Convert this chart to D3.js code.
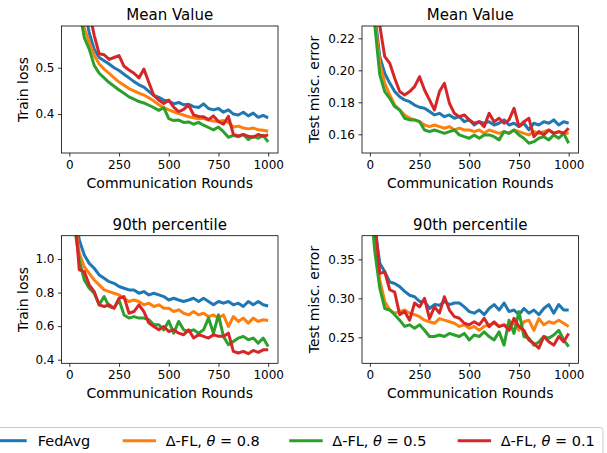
<!DOCTYPE html>
<html lang="en">
<head>
<meta charset="utf-8">
<script src="https://cdn.jsdelivr.net/npm/d3@7"></script>
<style>
  body { margin: 0; background: #fff; }
  svg { font-family: "DejaVu Sans", sans-serif; }
</style>
</head>
<body>
<div id="chart"></div>
<script>
// communication rounds sampled every 25
var rounds = [0,25,50,75,100,125,150,175,200,225,250,275,300,325,350,375,400,425,450,475,500,
  525,550,575,600,625,650,675,700,725,750,775,800,825,850,875,900,925,950,975,1000];

var seriesNames = ["FedAvg", "0.8", "0.5", "0.1"];
var colors = ["#1f77b4", "#ff7f0e", "#2ca02c", "#d62728"];
var xTicks = [0, 250, 500, 750, 1000];

// train loss, mean
var trainMeanFedAvg = [1.3,0.95,0.72,0.63,0.575,0.54,0.522,0.515,0.508,0.500,0.494,0.486,0.478,0.470,0.463,0.458,0.449,0.440,0.436,0.430,
  0.428,0.422,0.425,0.420,0.421,0.416,0.414,0.422,0.412,0.409,0.412,0.404,0.409,0.400,0.398,0.404,0.396,0.402,0.393,0.397,0.392];
var trainMean08 = [1.25,0.88,0.66,0.585,0.555,0.527,0.508,0.497,0.488,0.478,0.469,0.462,0.455,0.450,0.445,0.441,0.435,0.428,0.420,0.414,
  0.409,0.405,0.401,0.398,0.394,0.392,0.390,0.391,0.387,0.385,0.384,0.386,0.382,0.372,0.374,0.370,0.368,0.370,0.366,0.365,0.363];
var trainMean05 = [1.2,0.82,0.625,0.565,0.54,0.505,0.488,0.478,0.468,0.460,0.452,0.445,0.437,0.432,0.427,0.424,0.419,0.414,0.408,0.414,
  0.390,0.386,0.387,0.382,0.383,0.378,0.382,0.376,0.371,0.366,0.372,0.362,0.350,0.354,0.351,0.356,0.345,0.352,0.348,0.354,0.340];
var trainMean01 = [1.4,1.05,0.80,0.68,0.62,0.57,0.530,0.528,0.518,0.522,0.526,0.503,0.495,0.488,0.478,0.497,0.468,0.440,0.430,0.423,
  0.430,0.415,0.405,0.410,0.420,0.398,0.395,0.394,0.388,0.396,0.384,0.378,0.395,0.356,0.353,0.356,0.352,0.350,0.356,0.352,0.355];

// test error, mean
var testMeanFedAvg = [0.30,0.235,0.2085,0.198,0.192,0.1867,0.1835,0.1815,0.1804,0.1783,0.1769,0.1763,0.1742,0.1721,0.1731,0.171,0.1721,0.170,0.171,0.1679,
  0.169,0.1658,0.1679,0.1669,0.1679,0.1658,0.1669,0.169,0.1658,0.1669,0.1648,0.1669,0.1627,0.1669,0.1658,0.1679,0.1669,0.169,0.1658,0.1679,0.1669];
var testMean08 = [0.29,0.232,0.2044,0.1919,0.1846,0.1783,0.1752,0.1721,0.170,0.169,0.1679,0.1658,0.1648,0.1658,0.1648,0.1638,0.1648,0.1627,0.1638,0.1627,
  0.1627,0.1617,0.1627,0.1606,0.1627,0.1617,0.1606,0.1617,0.1606,0.1627,0.1617,0.1606,0.1596,0.1617,0.1606,0.1617,0.1627,0.1606,0.1617,0.1606,0.1606];
var testMean05 = [0.28,0.228,0.1971,0.1867,0.1825,0.1773,0.1752,0.170,0.169,0.169,0.1679,0.1627,0.1617,0.1627,0.1617,0.1606,0.1617,0.1627,0.1596,0.1585,
  0.1575,0.1596,0.1575,0.1596,0.1596,0.1585,0.1565,0.1617,0.1606,0.1627,0.1596,0.1575,0.1544,0.1554,0.1575,0.1585,0.1565,0.1596,0.1575,0.1606,0.1544];
var testMean01 = [0.34,0.27,0.228,0.2085,0.2044,0.195,0.1867,0.1846,0.1867,0.1898,0.196,0.1877,0.1815,0.1752,0.1867,0.1919,0.1794,0.1731,0.171,0.1721,
  0.169,0.1669,0.1679,0.1648,0.1731,0.1679,0.170,0.1669,0.169,0.1763,0.1648,0.1679,0.170,0.1585,0.1617,0.1596,0.1627,0.1606,0.1617,0.1606,0.1638];

// train loss, 90th percentile
var trainP90FedAvg = [1.6,1.3,1.113,1.024,0.974,0.945,0.905,0.885,0.865,0.855,0.836,0.826,0.816,0.816,0.796,0.806,0.786,0.796,0.786,0.776,
  0.756,0.766,0.756,0.747,0.756,0.766,0.747,0.766,0.747,0.727,0.747,0.737,0.747,0.727,0.737,0.717,0.747,0.727,0.747,0.727,0.720];
var trainP9008 = [1.55,1.25,1.034,0.954,0.915,0.875,0.846,0.816,0.806,0.796,0.786,0.766,0.747,0.756,0.747,0.727,0.737,0.717,0.727,0.707,
  0.707,0.687,0.697,0.677,0.667,0.687,0.667,0.677,0.657,0.667,0.648,0.667,0.598,0.657,0.628,0.648,0.618,0.648,0.628,0.638,0.634];
var trainP9005 = [1.5,1.2,0.994,0.875,0.826,0.796,0.727,0.776,0.717,0.707,0.756,0.667,0.648,0.657,0.648,0.648,0.638,0.608,0.608,0.578,
  0.630,0.558,0.628,0.578,0.568,0.578,0.558,0.578,0.648,0.558,0.667,0.539,0.489,0.509,0.529,0.539,0.519,0.529,0.499,0.529,0.479];
var trainP9001 = [1.7,1.3,0.935,0.925,0.846,0.806,0.727,0.717,0.727,0.707,0.766,0.776,0.677,0.687,0.727,0.687,0.618,0.598,0.578,0.598,
  0.568,0.578,0.558,0.549,0.578,0.529,0.549,0.539,0.529,0.549,0.539,0.539,0.558,0.450,0.440,0.450,0.436,0.455,0.444,0.459,0.459];

// test error, 90th percentile
var testP90FedAvg = [0.45,0.39,0.345,0.334,0.321,0.319,0.315,0.309,0.304,0.302,0.296,0.296,0.287,0.292,0.291,0.296,0.292,0.294,0.294,0.289,
  0.283,0.281,0.285,0.279,0.287,0.292,0.285,0.294,0.283,0.285,0.279,0.287,0.281,0.285,0.279,0.287,0.292,0.281,0.292,0.285,0.285];
var testP9008 = [0.44,0.37,0.3235,0.296,0.285,0.281,0.283,0.285,0.281,0.279,0.2765,0.272,0.270,0.268,0.274,0.272,0.270,0.268,0.264,0.266,
  0.2615,0.264,0.259,0.264,0.266,0.268,0.264,0.266,0.264,0.268,0.259,0.270,0.272,0.259,0.274,0.266,0.270,0.268,0.272,0.268,0.264];
var testP9005 = [0.43,0.36,0.313,0.287,0.285,0.279,0.272,0.264,0.266,0.2615,0.266,0.259,0.251,0.251,0.253,0.251,0.255,0.253,0.251,0.255,
  0.2466,0.253,0.251,0.257,0.251,0.2466,0.257,0.240,0.272,0.255,0.283,0.251,0.249,0.240,0.244,0.251,0.249,0.253,0.259,0.2466,0.238];
var testP9001 = [0.47,0.40,0.332,0.334,0.311,0.308,0.279,0.283,0.272,0.294,0.289,0.300,0.274,0.289,0.281,0.302,0.285,0.2765,0.2744,0.268,
  0.266,0.270,0.266,0.2744,0.2637,0.270,0.2637,0.266,0.259,0.2744,0.2637,0.259,0.2466,0.242,0.236,0.251,0.2444,0.240,0.251,0.2444,0.255];

var panels = [
  {title: "Mean Value", ylabel: "Train loss", x0: 61.5, x1: 278, y0: 26, y1: 153,
   ydom: [0.316, 0.590], yticks: [0.4, 0.5], fmt: ".1f",
   series: [trainMeanFedAvg, trainMean08, trainMean05, trainMean01]},
  {title: "Mean Value", ylabel: "Test misc. error", x0: 362, x1: 578.5, y0: 26, y1: 153,
   ydom: [0.1483, 0.2277], yticks: [0.16, 0.18, 0.20, 0.22], fmt: ".2f",
   series: [testMeanFedAvg, testMean08, testMean05, testMean01]},
  {title: "90th percentile", ylabel: "Train loss", x0: 61.5, x1: 278, y0: 235.7, y1: 363.3,
   ydom: [0.3785, 1.139], yticks: [0.4, 0.6, 0.8, 1.0], fmt: ".1f",
   series: [trainP90FedAvg, trainP9008, trainP9005, trainP9001]},
  {title: "90th percentile", ylabel: "Test misc. error", x0: 362, x1: 578.5, y0: 235.7, y1: 363.3,
   ydom: [0.2167, 0.3803], yticks: [0.25, 0.30, 0.35], fmt: ".2f",
   series: [testP90FedAvg, testP9008, testP9005, testP9001]}
];

var svg = d3.select("#chart").append("svg")
  .attr("width", 607)
  .attr("height", 453);

panels.forEach(function(p, k) {
  var x = d3.scaleLinear().domain([-39.5, 1049.5]).range([p.x0, p.x1]);
  var y = d3.scaleLinear().domain(p.ydom).range([p.y1, p.y0]);

  var clipId = "clip" + k;
  svg.append("clipPath").attr("id", clipId)
    .append("rect")
      .attr("x", p.x0).attr("y", p.y0)
      .attr("width", p.x1 - p.x0).attr("height", p.y1 - p.y0);

  var line = d3.line()
    .x(function(d, i) { return x(rounds[i]); })
    .y(function(d) { return y(d); });

  var g = svg.append("g").attr("clip-path", "url(#" + clipId + ")");
  p.series.forEach(function(s, i) {
    g.append("path")
      .datum(s)
      .attr("d", line)
      .style("fill", "none")
      .style("stroke", colors[i])
      .style("stroke-width", 3)
      .style("stroke-linejoin", "round");
  });

  // axes
  var xAxis = d3.axisBottom(x).tickValues(xTicks).tickSize(3.5).tickPadding(3.5)
    .tickFormat(d3.format("d"));
  var xg = svg.append("g").attr("transform", "translate(0," + p.y1 + ")").call(xAxis);

  var yAxis = d3.axisLeft(y).tickValues(p.yticks).tickSize(3.5).tickPadding(3.5)
    .tickFormat(d3.format(p.fmt));
  var yg = svg.append("g").attr("transform", "translate(" + p.x0 + ",0)").call(yAxis);

  [xg, yg].forEach(function(a) {
    a.select(".domain").remove();
    a.selectAll("line").style("stroke", "#000").style("stroke-width", 0.8);
    a.selectAll("text").style("font-size", "12px").style("fill", "#000")
      .style("font-family", "DejaVu Sans");
  });

  // frame
  svg.append("rect")
    .attr("x", p.x0).attr("y", p.y0)
    .attr("width", p.x1 - p.x0).attr("height", p.y1 - p.y0)
    .style("fill", "none").style("stroke", "#000").style("stroke-width", 0.8);

  var cx = (p.x0 + p.x1) / 2;
  svg.append("text")
    .attr("x", cx).attr("y", p.y0 - 6)
    .attr("text-anchor", "middle")
    .style("font-size", "15px")
    .text(p.title);

  svg.append("text")
    .attr("x", cx).attr("y", p.y1 + 34.5)
    .attr("text-anchor", "middle")
    .style("font-size", "14px")
    .text("Communication Rounds");

  var lx = p.x0 - (k % 2 === 0 ? 34 : 43);
  svg.append("text")
    .attr("transform", "translate(" + lx + "," + ((p.y0 + p.y1) / 2) + ") rotate(-90)")
    .attr("text-anchor", "middle")
    .style("font-size", "14px")
    .text(p.ylabel);
});

// legend
var legend = svg.append("g");
legend.append("rect")
  .attr("x", -8).attr("y", 427.5)
  .attr("width", 611).attr("height", 40)
  .attr("rx", 3)
  .style("fill", "#fff").style("stroke", "#cccccc").style("stroke-width", 1);

var legendX = [-4, 122.7, 289.3, 457.7];
seriesNames.forEach(function(name, i) {
  var lg = legend.append("g").attr("transform", "translate(" + legendX[i] + ",440.7)");
  lg.append("line")
    .attr("x1", 0).attr("x2", i === 0 ? 30.7 : 33.4)
    .style("stroke", colors[i]).style("stroke-width", 3);
  var t = lg.append("text")
    .attr("x", i === 0 ? 41.7 : 43)
    .attr("dy", "0.35em")
    .style("font-size", "14.5px");
  if (i === 0) {
    t.text(name);
  } else {
    t.append("tspan").text("\u0394-FL, ");
    t.append("tspan").style("font-style", "italic").text("\u03b8");
    t.append("tspan").text(" = " + name);
  }
});
</script>
</body>
</html>
